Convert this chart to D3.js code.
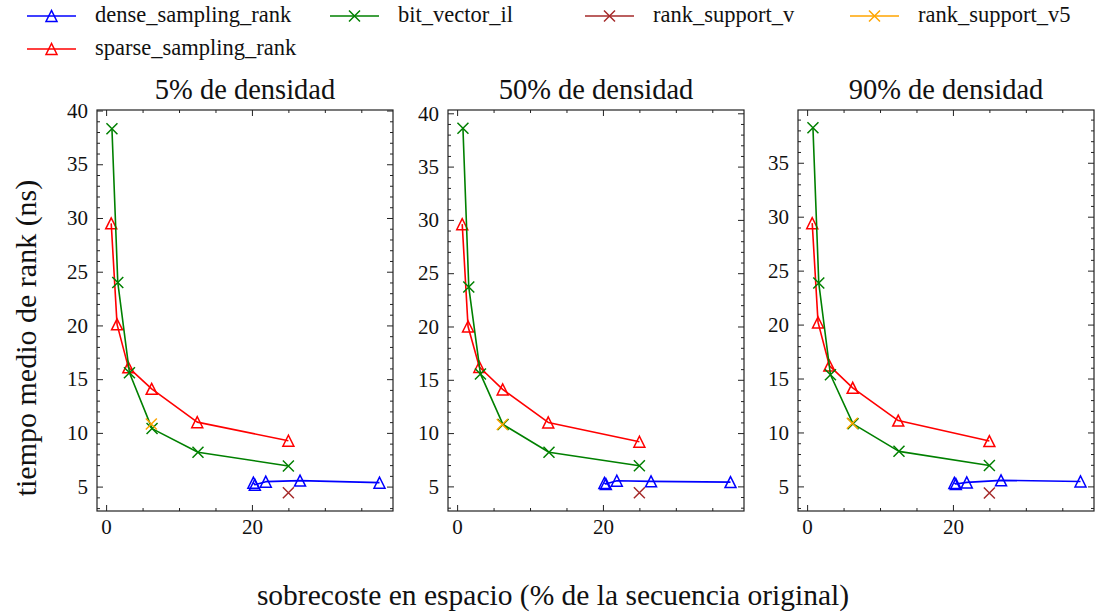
<!DOCTYPE html>
<html>
<head>
<meta charset="utf-8">
<script src="https://cdn.jsdelivr.net/npm/d3@7"></script>
<style>
  html, body { margin: 0; padding: 0; background: #fff; }
  svg { display: block; }
</style>
</head>
<body>
<svg id="chart" width="1097" height="614"></svg>
<script>
// ---------------- DATA ----------------
const panelTitles = ["5% de densidad", "50% de densidad", "90% de densidad"];
const seriesNames = ["dense_sampling_rank", "bit_vector_il", "rank_support_v", "rank_support_v5", "sparse_sampling_rank"];

const denseX   = [20.2, 20.4, 21.9, 26.6, 37.5];
const denseY5  = [5.37, 5.18, 5.46, 5.56, 5.37];
const denseY50 = [5.32, 5.22, 5.53, 5.47, 5.40];
const denseY90 = [5.32, 5.22, 5.37, 5.56, 5.46];

const bitX   = [0.8, 1.6, 3.2, 6.3, 12.6, 25.0];
const bitY5  = [38.3, 24.0, 15.6, 10.4, 8.2, 6.92];
const bitY50 = [38.6, 23.7, 15.55, 10.8, 8.2, 6.94];
const bitY90 = [38.25, 23.85, 15.35, 10.8, 8.25, 6.94];

const rsvX   = [25.0];
const rsvY5  = [4.42];
const rsvY50 = [4.40];
const rsvY90 = [4.38];

const rsv5X   = [6.2];
const rsv5Y5  = [10.82];
const rsv5Y50 = [10.8];
const rsv5Y90 = [10.85];

const sparseX   = [0.7, 1.5, 3.05, 6.25, 12.5, 25.0];
const sparseY5  = [29.5, 20.1, 16.1, 14.1, 11.0, 9.27];
const sparseY50 = [29.6, 20.0, 16.2, 14.1, 11.0, 9.19];
const sparseY90 = [29.4, 20.2, 16.2, 14.14, 11.1, 9.2];

const xTickValues = [0, 20];
const yTickValues = [5, 10, 15, 20, 25, 30, 35, 40];
const xLimits = [-1.25, 39.35];
const yLimits = [[2.73, 40.05], [2.69, 40.31], [2.72, 39.89]];

// ---------------- CONFIG ----------------
const FONT = "'Liberation Serif', 'Times New Roman', serif";
const colors = {
  dense_sampling_rank: "#0000ff",
  bit_vector_il: "#008000",
  rank_support_v: "#a52a2a",
  rank_support_v5: "#ffa500",
  sparse_sampling_rank: "#ff0000"
};
const markers = {
  dense_sampling_rank: "tri",
  bit_vector_il: "x",
  rank_support_v: "x",
  rank_support_v5: "x",
  sparse_sampling_rank: "tri"
};

const panelData = [
  { dense: denseY5,  bit: bitY5,  rsv: rsvY5,  rsv5: rsv5Y5,  sparse: sparseY5 },
  { dense: denseY50, bit: bitY50, rsv: rsvY50, rsv5: rsv5Y50, sparse: sparseY50 },
  { dense: denseY90, bit: bitY90, rsv: rsvY90, rsv5: rsv5Y90, sparse: sparseY90 }
];

function seriesFor(p) {
  const d = panelData[p];
  const zip = (xs, ys) => xs.map((x, i) => ({ x, y: ys[i] }));
  return [
    { name: "dense_sampling_rank", pts: zip(denseX, d.dense) },
    { name: "sparse_sampling_rank", pts: zip(sparseX, d.sparse) },
    { name: "bit_vector_il", pts: zip(bitX, d.bit) },
    { name: "rank_support_v", pts: zip(rsvX, d.rsv) },
    { name: "rank_support_v5", pts: zip(rsv5X, d.rsv5) }
  ];
}

const panelLeft = [97, 448, 798];
const panelW = 296;
const plotTop = 110, plotBottom = 511;

const svg = d3.select("#chart");

function drawMarker(g, type, cx, cy, color) {
  const s = 5.5;
  if (type === "tri") {
    g.append("path")
      .attr("d", `M${cx},${cy - s} L${cx - s},${cy + s} L${cx + s},${cy + s} Z`)
      .attr("fill", "none").attr("stroke", color).attr("stroke-width", 1.5)
      .attr("stroke-linejoin", "miter");
  } else {
    g.append("path")
      .attr("d", `M${cx - s},${cy - s} L${cx + s},${cy + s} M${cx - s},${cy + s} L${cx + s},${cy - s}`)
      .attr("fill", "none").attr("stroke", color).attr("stroke-width", 1.5);
  }
}

for (let p = 0; p < 3; p++) {
  const x = d3.scaleLinear().domain(xLimits).range([panelLeft[p], panelLeft[p] + panelW]);
  const y = d3.scaleLinear().domain(yLimits[p]).range([plotBottom, plotTop]);
  const g = svg.append("g");

  const yMajor = yTickValues.filter(v => v >= yLimits[p][0] && v <= yLimits[p][1]);
  const yMinor = d3.range(3, 41, 1).filter(v => v % 5 !== 0 && v >= yLimits[p][0] && v <= yLimits[p][1]);
  const xMinor = [5, 10, 15, 25, 30, 35];

  const styleAxis = (sel) => {
    sel.attr("font-family", null);
    sel.select(".domain").remove();
    sel.selectAll(".tick line").attr("stroke", "#222").attr("stroke-width", 1);
    sel.selectAll(".tick text")
      .style("font-family", FONT).style("font-size", "21px").attr("fill", "#111");
  };

  g.append("g").attr("transform", `translate(0,${plotBottom})`)
    .call(d3.axisBottom(x).tickValues(xTickValues).tickSize(-6).tickPadding(8).tickFormat(d3.format("d")))
    .call(styleAxis);
  g.append("g").attr("transform", `translate(0,${plotBottom})`)
    .call(d3.axisBottom(x).tickValues(xMinor).tickSize(-3).tickFormat(""))
    .call(styleAxis);
  g.append("g").attr("transform", `translate(0,${plotTop})`)
    .call(d3.axisTop(x).tickValues(xTickValues).tickSize(-6).tickFormat(""))
    .call(styleAxis);
  g.append("g").attr("transform", `translate(0,${plotTop})`)
    .call(d3.axisTop(x).tickValues(xMinor).tickSize(-3).tickFormat(""))
    .call(styleAxis);
  g.append("g").attr("transform", `translate(${panelLeft[p]},0)`)
    .call(d3.axisLeft(y).tickValues(yMajor).tickSize(-6).tickPadding(9).tickFormat(d3.format("d")))
    .call(styleAxis);
  g.append("g").attr("transform", `translate(${panelLeft[p]},0)`)
    .call(d3.axisLeft(y).tickValues(yMinor).tickSize(-3).tickFormat(""))
    .call(styleAxis);
  g.append("g").attr("transform", `translate(${panelLeft[p] + panelW},0)`)
    .call(d3.axisRight(y).tickValues(yMajor).tickSize(-6).tickFormat(""))
    .call(styleAxis);
  g.append("g").attr("transform", `translate(${panelLeft[p] + panelW},0)`)
    .call(d3.axisRight(y).tickValues(yMinor).tickSize(-3).tickFormat(""))
    .call(styleAxis);

  g.append("rect")
    .attr("x", panelLeft[p]).attr("y", plotTop)
    .attr("width", panelW).attr("height", plotBottom - plotTop)
    .attr("fill", "none").attr("stroke", "#222").attr("stroke-width", 1.2);

  g.append("text")
    .attr("x", panelLeft[p] + panelW / 2).attr("y", plotTop - 11)
    .attr("text-anchor", "middle")
    .style("font-family", FONT).style("font-size", "28.5px").attr("fill", "#111")
    .text(panelTitles[p]);

  const line = d3.line().x(d => x(d.x)).y(d => y(d.y));
  seriesFor(p).forEach(s => {
    const c = colors[s.name];
    if (s.pts.length > 1) {
      g.append("path").datum(s.pts).attr("d", line)
        .attr("fill", "none").attr("stroke", c).attr("stroke-width", 1.6)
        .attr("stroke-linejoin", "round");
    }
    s.pts.forEach(d => drawMarker(g, markers[s.name], x(d.x), y(d.y), c));
  });
}

svg.append("text")
  .attr("x", 553).attr("y", 605)
  .attr("text-anchor", "middle")
  .style("font-family", FONT).style("font-size", "29.5px").attr("fill", "#111")
  .text("sobrecoste en espacio (% de la secuencia original)");
svg.append("text")
  .attr("transform", `translate(36,338) rotate(-90)`)
  .attr("text-anchor", "middle")
  .style("font-family", FONT).style("font-size", "30px").attr("fill", "#111")
  .text("tiempo medio de rank (ns)");

const legendItems = [
  { name: "dense_sampling_rank", x: 27, y: 16 },
  { name: "bit_vector_il", x: 330, y: 16 },
  { name: "rank_support_v", x: 585, y: 16 },
  { name: "rank_support_v5", x: 850, y: 16 },
  { name: "sparse_sampling_rank", x: 27, y: 49 }
];
const lg = svg.append("g");
legendItems.forEach(it => {
  const c = colors[it.name];
  lg.append("line").attr("x1", it.x).attr("x2", it.x + 49)
    .attr("y1", it.y).attr("y2", it.y).attr("stroke", c).attr("stroke-width", 1.6);
  drawMarker(lg, markers[it.name], it.x + 24.5, it.y, c);
  lg.append("text").attr("x", it.x + 68).attr("y", it.y + 6)
    .style("font-family", FONT).style("font-size", "22.5px").attr("fill", "#111")
    .text(it.name);
});
</script>
</body>
</html>
